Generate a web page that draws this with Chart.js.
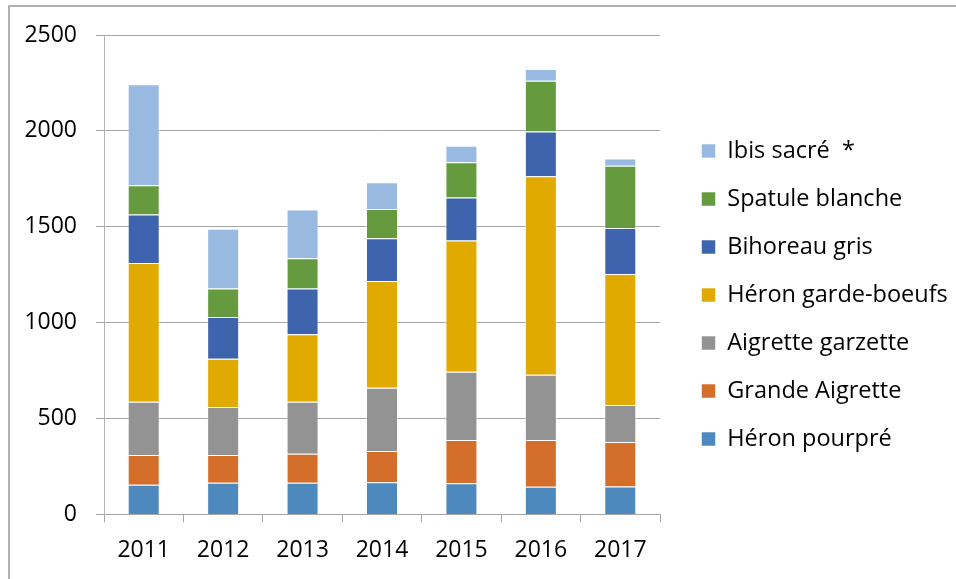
<!DOCTYPE html>
<html lang="fr">
<head>
  <meta charset="UTF-8">
  <title>Effectifs nicheurs - ardéidés</title>
  <script src="https://cdn.jsdelivr.net/npm/chart.js"></script>
  <style>
    html, body { margin: 0; padding: 0; background: #fff; overflow: hidden; }
    #wrap { position: relative; width: 956px; height: 579px; }
    #cadre {
      position: absolute; left: 8px; top: 5px; width: 2000px; height: 2000px;
      border-left: 2px solid #b0b0b0; border-top: 2px solid #b0b0b0;
    }
    #graphe { position: absolute; left: 0; top: 0; }
  </style>
</head>
<body>
<div id="wrap">
  <div id="cadre"></div>
  <canvas id="graphe" width="956" height="579"></canvas>
</div>

<script>
  // années et effectifs par espèce (empilés de bas en haut)
  const annees = ['2011', '2012', '2013', '2014', '2015', '2016', '2017'];

  const heronPourpre     = [155, 165, 165, 168, 163, 144, 146];
  const grandeAigrette   = [155, 145, 151, 163, 225, 244, 232];
  const aigretteGarzette = [277, 250, 271, 329, 356, 340, 192];
  const heronGardeBoeufs = [724, 252, 353, 557, 684, 1036, 683];
  const bihoreauGris     = [253, 217, 238, 223, 224, 233, 241];
  const spatuleBlanche   = [153, 149, 158, 153, 185, 265, 324];
  const ibisSacre        = [526, 311, 254, 139, 85, 61, 38];

  const graduations = [0, 500, 1000, 1500, 2000, 2500];

  const police = "'Open Sans', 'Liberation Sans', sans-serif";

  function serie(label, data, couleur) {
    return {
      label: label,
      data: data,
      backgroundColor: couleur,
      borderColor: 'rgba(255,255,255,0.55)',
      borderWidth: 1,
      barPercentage: 0.403,
      categoryPercentage: 1
    };
  }

  const config = {
    type: 'bar',
    data: {
      labels: annees,
      datasets: [
        serie('Héron pourpré', heronPourpre, '#4e89bd'),
        serie('Grande Aigrette', grandeAigrette, '#d36e2b'),
        serie('Aigrette garzette', aigretteGarzette, '#939393'),
        serie('Héron garde-boeufs', heronGardeBoeufs, '#e1aa00'),
        serie('Bihoreau gris', bihoreauGris, '#3d64ad'),
        serie('Spatule blanche', spatuleBlanche, '#659b3e'),
        serie('Ibis sacré  *', ibisSacre, '#99bae0')
      ]
    },
    options: {
      responsive: false,
      animation: false,
      layout: { padding: { left: 0, top: 12, right: 0, bottom: 1 } },
      plugins: {
        tooltip: { enabled: false },
        legend: {
          position: 'right',
          reverse: true,
          maxWidth: 279,
          labels: {
            boxWidth: 14,
            boxHeight: 14,
            padding: 24.5,
            color: '#000',
            font: { family: police, size: 23.5 }
          }
        }
      },
      scales: {
        x: {
          stacked: true,
          grid: {
            offset: true,
            drawOnChartArea: false,
            tickLength: 8,
            color: '#a6a6a6'
          },
          border: { color: '#a6a6a6' },
          ticks: {
            padding: 14,
            color: '#000',
            font: { family: police, size: 23 }
          }
        },
        y: {
          stacked: true,
          min: 0,
          max: 2500,
          afterBuildTicks: function (s) {
            s.ticks = graduations.map(function (v) { return { value: v }; });
          },
          grid: { tickLength: 8, color: '#a6a6a6' },
          border: { color: '#b4b4b4' },
          ticks: {
            padding: 19,
            color: '#000',
            font: { family: police, size: 23 },
            callback: function (v) { return String(v); }
          },
          afterFit: function (s) {
            s.width = 104;
            s.paddingTop = 35;
          }
        },
        // espace vide entre la zone du graphe et la légende
        marge: {
          type: 'linear',
          position: 'right',
          display: true,
          grid: { display: false },
          border: { display: false },
          ticks: { display: false },
          afterFit: function (s) { s.width = 17; }
        }
      }
    }
  };

  new Chart(document.getElementById('graphe'), config);
</script>
</body>
</html>
